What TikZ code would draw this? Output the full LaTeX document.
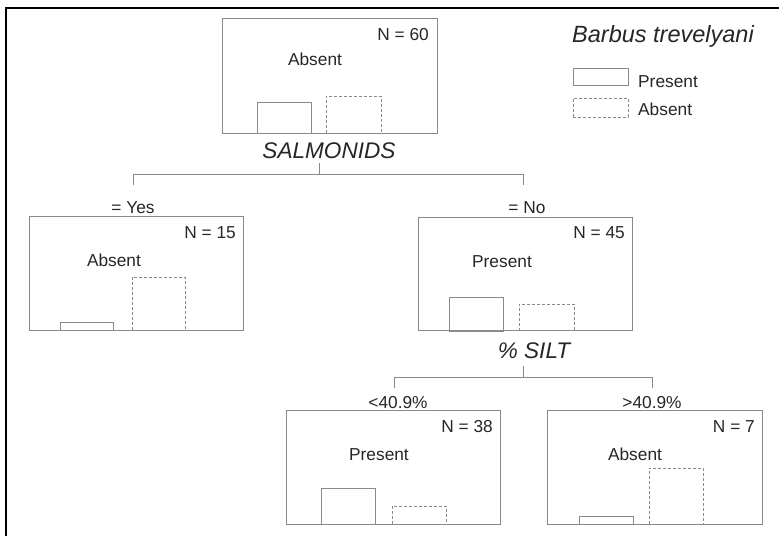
\documentclass[tikz,border=0pt]{standalone}
\usepackage{fontspec}
\setmainfont{Liberation Sans}
\definecolor{linegray}{HTML}{8A8A8A}
\definecolor{txt}{HTML}{262626}
\begin{document}
\begin{tikzpicture}[x=1pt,y=-1pt,
  treebox/.style={draw=linegray, line width=0.9pt, inner sep=0pt, minimum width=#1, minimum height=113.5pt},
  barsolid/.style={draw=linegray, line width=0.9pt},
  bardash/.style={draw=linegray, line width=0.9pt, dash pattern=on 3pt off 2pt},
  conn/.style={draw=linegray, line width=0.9pt},
  lbl/.style={inner sep=0pt, text=txt, font=\fontsize{17.3}{20}\selectfont},
  split/.style={inner sep=0pt, text=txt, font=\fontsize{22.6}{26}\selectfont\itshape}]
\useasboundingbox (0,0) rectangle (779,536);
% frame
\draw[line width=2pt, black] (6,536) -- (6,7.8) -- (779,7.8);

% boxes
\node[treebox=215pt, minimum height=115pt] (root) at (329.5,75.5) {};
\node[treebox=214pt] (yes) at (136,273.5) {};
\node[treebox=214pt] (no) at (525,274) {};
\node[treebox=214pt] (lt) at (393,467.5) {};
\node[treebox=215pt] (gt) at (654.5,467.5) {};

% bars
\draw[barsolid] (257,133) rectangle (311,102);
\draw[bardash] (326,133) -- (326,96) -- (381,96) -- (381,133);
\draw[barsolid] (60,330) rectangle (113,322);
\draw[bardash] (132,330) -- (132,277) -- (185,277) -- (185,330);
\draw[barsolid] (449,331) rectangle (503,297);
\draw[bardash] (519,331) -- (519,304) -- (574,304) -- (574,331);
\draw[barsolid] (321,524) rectangle (375,488);
\draw[bardash] (392,524) -- (392,506) -- (446,506) -- (446,524);
\draw[barsolid] (579,524) rectangle (633,516);
\draw[bardash] (649,524) -- (649,468) -- (703,468) -- (703,524);

% texts in boxes
\node[lbl, anchor=base east] (rootn) at (429,40) {N = 60};
\node[lbl, anchor=base] (rootc) at (315,65) {Absent};
\node[lbl, anchor=base east] (yesn) at (236,238) {N = 15};
\node[lbl, anchor=base] (yesc) at (114,266) {Absent};
\node[lbl, anchor=base east] (non) at (625,238) {N = 45};
\node[lbl, anchor=base] (noc) at (502,267) {Present};
\node[lbl, anchor=base east] (ltn) at (493,432) {N = 38};
\node[lbl, anchor=base] (ltc) at (379,460) {Present};
\node[lbl, anchor=base east] (gtn) at (755,432) {N = 7};
\node[lbl, anchor=base] (gtc) at (635,460) {Absent};

% split labels
\node[split, anchor=base] (s1) at (329,158) {SALMONIDS};
\node[split, anchor=base] (s2) at (534,358) {\% SILT};
\node[lbl, anchor=base] (e1) at (133,213) {= Yes};
\node[lbl, anchor=base] (e2) at (527,213) {= No};
\node[lbl, anchor=base] (e3) at (398,408) {<40.9\%};
\node[lbl, anchor=base] (e4) at (652,408) {>40.9\%};

% connectors
\coordinate (r1) at (319,163);
\coordinate (r2) at (319,174);
\coordinate (yc) at (133,174);
\coordinate (nc) at (523,174);
\coordinate (ye) at (133,185);
\coordinate (ne) at (523,185);
\draw[conn] (r1) -- (r2);
\draw[conn] (ye) -- (yc) -- (nc) -- (ne);

\coordinate (q1) at (523,366);
\coordinate (q2) at (523,377);
\coordinate (lc) at (394,377);
\coordinate (gc) at (652,377);
\coordinate (le) at (394,388);
\coordinate (ge) at (652,388);
\draw[conn] (q1) -- (q2);
\draw[conn] (le) -- (lc) -- (gc) -- (ge);

% legend
\node[split, font=\fontsize{23.5}{27}\selectfont\itshape, anchor=base west] (legt) at (572,42) {Barbus trevelyani};
\node[barsolid, inner sep=0pt, minimum width=55pt, minimum height=17pt] (legs) at (600.5,76.5) {};
\node[bardash, inner sep=0pt, minimum width=55pt, minimum height=19pt] (legd) at (600.5,107.5) {};
\node[lbl, anchor=base west] (legsl) at (638,87) {Present};
\node[lbl, anchor=base west] (legdl) at (638,115) {Absent};
\end{tikzpicture}
\end{document}
